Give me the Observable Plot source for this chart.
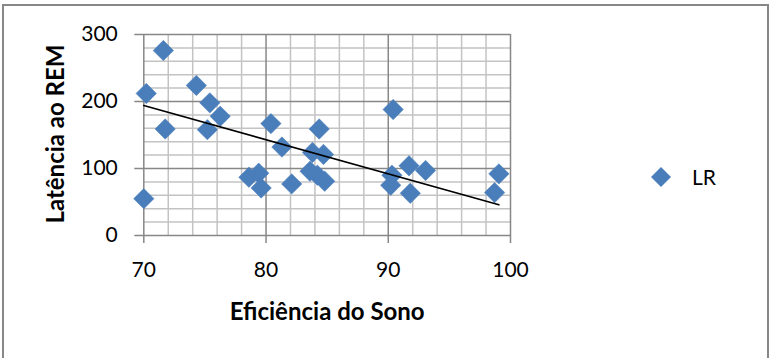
<!DOCTYPE html>
<html>
<head>
<meta charset="utf-8">
<script src="https://cdn.jsdelivr.net/npm/d3@7"></script>
<script src="https://cdn.jsdelivr.net/npm/@observablehq/plot@0.6"></script>
<style>
  html, body { margin: 0; padding: 0; background: #fff; }
  #chart { position: relative; width: 770px; height: 358px; overflow: hidden; font-family: Lato, "Open Sans", sans-serif; }
  #chart svg { position: absolute; left: 0; top: 0; }
  #frame { position: absolute; left: 2px; top: 4px; width: 767px; height: 370px; border: 2px solid #878787; box-sizing: border-box; pointer-events: none; }
  #legend { position: absolute; left: 650px; top: 164px; display: flex; align-items: center; font-size: 21px; color: #000; }
  #legend svg { position: static; margin-right: 20px; }
</style>
</head>
<body>
<div id="chart">
  <div id="frame"></div>
</div>
<script>
// Sleep efficiency (%) vs REM latency (min), one diamond per subject
const eficiencia = [70.0, 70.2, 71.6, 71.75, 74.3, 75.4, 75.2, 76.25, 80.4, 81.3,
                    78.6, 79.4, 79.6, 82.1, 90.4, 84.35, 83.8, 84.7, 83.6, 84.2,
                    84.8, 91.7, 93.05, 90.3, 90.2, 91.8, 99.05, 98.7];
const latencia   = [55, 212, 276, 159, 224, 198, 158, 178, 167, 132,
                    87, 93, 71, 77, 188, 159, 124, 121, 96, 90,
                    81, 104, 97, 90, 75, 63, 92, 64];

// linear trend line endpoints
const trendX = [70, 99.05];
const trendY = [194, 45.8];

// axis ticks and gridlines
const xTicks = [70, 80, 90, 100];
const yTicks = [0, 100, 200, 300];
const xMinor = [72, 74, 76, 78, 82, 84, 86, 88, 92, 94, 96, 98];
const yMinor = [20, 40, 60, 80, 120, 140, 160, 180, 220, 240, 260, 280];

const seriesName = "LR";
const xTitle = "Eficiência do Sono";
const yTitle = "Latência ao REM";

const blue = "#4a7ebb";
const minorGrid = "#c3c3c3";
const majorGrid = "#878787";

const points = eficiencia.map((x, i) => ({x, y: latencia[i]}));
const trend = trendX.map((x, i) => ({x, y: trendY[i]}));

const plot = Plot.plot({
  width: 770,
  height: 358,
  marginLeft: 143.3,
  marginRight: 260,
  marginTop: 34,
  marginBottom: 123,
  style: {fontFamily: 'Lato, "Open Sans", sans-serif', background: "transparent", color: "#000"},
  x: {domain: [70, 100]},
  y: {domain: [0, 300]},
  marks: [
    Plot.ruleX(xMinor, {stroke: minorGrid, strokeWidth: 1.5}),
    Plot.ruleY(yMinor, {stroke: minorGrid, strokeWidth: 1.5}),
    Plot.ruleX(xTicks, {stroke: majorGrid, strokeWidth: 1.5}),
    Plot.ruleY(yTicks, {stroke: majorGrid, strokeWidth: 1.5}),
    Plot.axisX({ticks: xTicks, tickSize: 8, tickPadding: 19, fontSize: 21, stroke: majorGrid, strokeWidth: 1.5, label: null, tickFormat: d => d}),
    Plot.axisY({ticks: yTicks, tickSize: 9, tickPadding: 17, fontSize: 21, stroke: majorGrid, strokeWidth: 1.5, label: null, tickFormat: d => d}),
    Plot.dot(points, {x: "x", y: "y", symbol: "diamond2", r: 9.2, fill: blue, stroke: blue, strokeWidth: 0.5}),
    Plot.line(trend, {x: "x", y: "y", stroke: "#000", strokeWidth: 1.6}),
    Plot.text([xTitle], {frameAnchor: "bottom", textAnchor: "middle", lineAnchor: "middle", dy: 77, fontSize: 24, fontWeight: "bold", fill: "#000"}),
    Plot.text([yTitle], {frameAnchor: "left", textAnchor: "middle", lineAnchor: "middle", rotate: -90, dx: -87, dy: -1, fontSize: 24, fontWeight: "bold", fill: "#000"})
  ]
});

const chart = document.getElementById("chart");
chart.insertBefore(plot, chart.firstChild);

// series legend to the right of the plot area
const legend = document.createElement("div");
legend.id = "legend";
legend.innerHTML = `<svg width="22" height="22" viewBox="-11 -11 22 22"><path d="M0,-10L10,0L0,10L-10,0Z" fill="${blue}"/></svg><span>${seriesName}</span>`;
chart.appendChild(legend);
</script>
</body>
</html>
